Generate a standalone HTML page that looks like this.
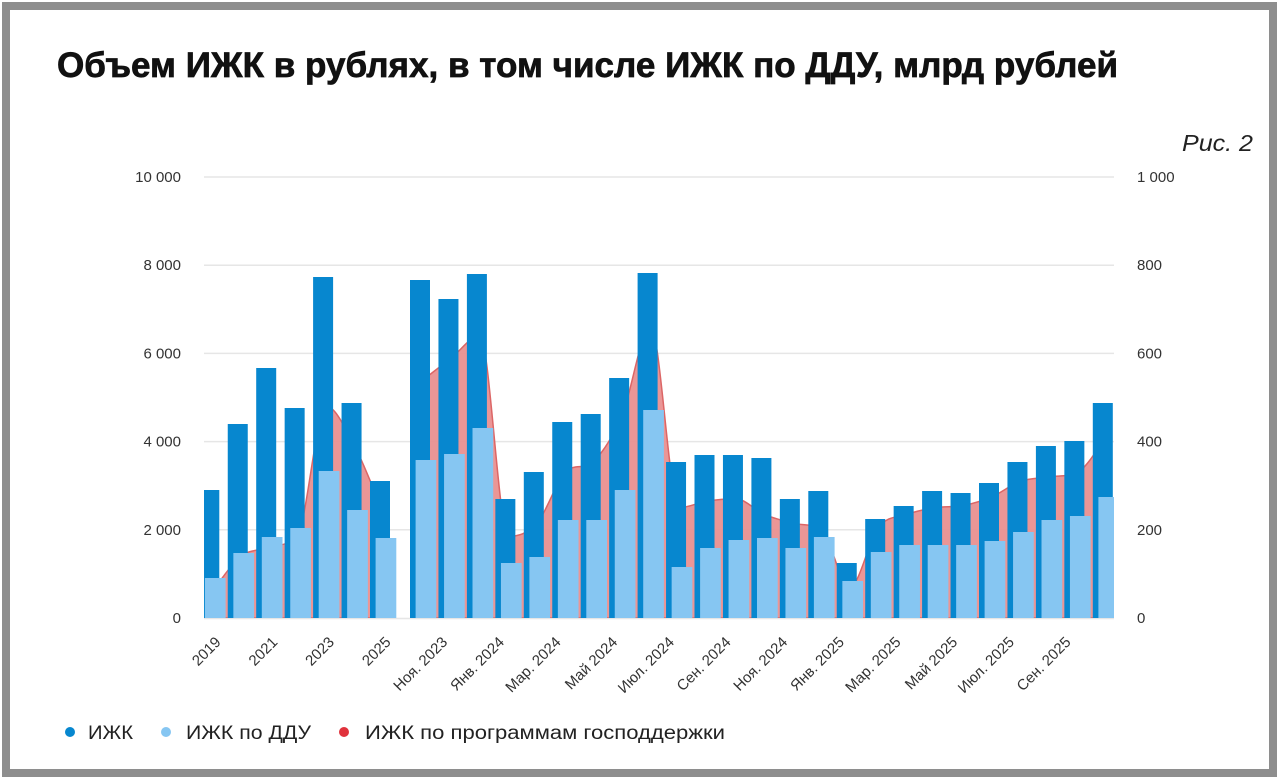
<!DOCTYPE html>
<html><head><meta charset="utf-8"><style>
html,body{margin:0;padding:0;background:#fff;}
svg{display:block;font-family:"Liberation Sans",Arial,sans-serif;}
</style></head><body>
<svg width="1280" height="780" viewBox="0 0 1280 780" xmlns="http://www.w3.org/2000/svg">
<rect x="0" y="0" width="1280" height="780" fill="#fff"/>
<rect x="6" y="6" width="1267" height="767" fill="none" stroke="#8e8e8e" stroke-width="8"/>

<text x="57" y="77" font-size="35" font-weight="bold" fill="#111" stroke="#111" stroke-width="0.7" textLength="1061" lengthAdjust="spacingAndGlyphs">Объем ИЖК в рублях, в том числе ИЖК по ДДУ, млрд рублей</text>
<text x="1182" y="151" font-size="23" font-style="italic" fill="#222" textLength="71" lengthAdjust="spacingAndGlyphs">Рис. 2</text>

<g stroke="#e6e6e6" stroke-width="1.5">
<line x1="204" y1="177" x2="1114" y2="177"/>
<line x1="204" y1="265.2" x2="1114" y2="265.2"/>
<line x1="204" y1="353.4" x2="1114" y2="353.4"/>
<line x1="204" y1="441.6" x2="1114" y2="441.6"/>
<line x1="204" y1="529.8" x2="1114" y2="529.8"/>
<line x1="204" y1="618.5" x2="1114" y2="618.5"/>
</g>

<g font-size="15" fill="#333" text-anchor="end">
<text x="181" y="182">10 000</text>
<text x="181" y="270">8 000</text>
<text x="181" y="358.5">6 000</text>
<text x="181" y="446.5">4 000</text>
<text x="181" y="535">2 000</text>
<text x="181" y="623">0</text>
</g>
<g font-size="15" fill="#333">
<text x="1137" y="182">1 000</text>
<text x="1137" y="270">800</text>
<text x="1137" y="358.5">600</text>
<text x="1137" y="446.5">400</text>
<text x="1137" y="535">200</text>
<text x="1137" y="623">0</text>
</g>

<defs><clipPath id="pc"><rect x="204" y="100" width="910" height="518"/></clipPath></defs>
<g clip-path="url(#pc)">
<g fill="#e99090" fill-opacity="0.95" stroke="#dc6666" stroke-width="1.5">
<path d="M 212.3,618 L 212.3,591.5 C 217.04,585.63 231.27,563.65 240.75,556.3 C 250.23,548.95 259.72,551.08 269.2,547.4 C 278.68,543.72 288.17,547.4 297.65,534.2 C 307.13,521.0 316.62,406.3 326.1,406.3 C 335.58,406.3 345.07,428.35 354.55,446.0 C 364.03,463.65 378.26,501.17 383.0,512.2 L 383,618 Z"/>
<path d="M 423,618 L 423,379.9 C 427.74,376.22 441.97,365.15 451.45,357.8 C 460.93,350.45 470.42,335.8 479.9,335.8 C 489.38,335.8 498.87,536.4 508.35,536.4 C 517.83,536.4 527.32,533.85 536.8,523.2 C 546.28,512.55 555.77,482.8 565.25,472.5 C 574.73,462.2 584.22,470.97 593.7,461.4 C 603.18,451.83 612.67,437.52 622.15,415.1 C 631.63,392.68 641.12,326.9 650.6,326.9 C 660.08,326.9 669.57,507.7 679.05,507.7 C 688.53,507.7 698.02,502.57 707.5,501.1 C 716.98,499.63 726.47,498.9 735.95,498.9 C 745.43,498.9 754.92,510.35 764.4,514.4 C 773.88,518.45 783.37,520.63 792.85,523.2 C 802.33,525.77 811.82,523.2 821.3,529.8 C 830.78,536.4 840.27,587.1 849.75,587.1 C 859.23,587.1 868.72,539.72 878.2,527.6 C 887.68,515.48 897.17,517.72 906.65,514.4 C 916.13,511.08 925.62,509.18 935.1,507.7 C 944.58,506.22 954.07,507.33 963.55,505.5 C 973.03,503.67 982.52,500.73 992.0,496.7 C 1001.48,492.67 1010.97,484.6 1020.45,481.3 C 1029.93,478.0 1039.42,478.37 1048.9,476.9 C 1058.38,475.43 1067.87,476.9 1077.35,472.5 C 1086.83,468.1 1101.06,443.08 1105.8,437.2 L 1105.8,618 Z"/>
</g>

<g fill="#0787cf">
<rect x="199.3" y="490" width="20" height="128"/>
<rect x="227.75" y="424" width="20" height="194"/>
<rect x="256.2" y="368" width="20" height="250"/>
<rect x="284.65" y="408" width="20" height="210"/>
<rect x="313.1" y="277" width="20" height="341"/>
<rect x="341.55" y="403" width="20" height="215"/>
<rect x="370" y="481" width="20" height="137"/>
<rect x="410" y="280" width="20" height="338"/>
<rect x="438.45" y="299" width="20" height="319"/>
<rect x="466.9" y="274" width="20" height="344"/>
<rect x="495.35" y="499" width="20" height="119"/>
<rect x="523.8" y="472" width="20" height="146"/>
<rect x="552.25" y="422" width="20" height="196"/>
<rect x="580.7" y="414" width="20" height="204"/>
<rect x="609.15" y="378" width="20" height="240"/>
<rect x="637.6" y="273" width="20" height="345"/>
<rect x="666.05" y="462" width="20" height="156"/>
<rect x="694.5" y="455" width="20" height="163"/>
<rect x="722.95" y="455" width="20" height="163"/>
<rect x="751.4" y="458" width="20" height="160"/>
<rect x="779.85" y="499" width="20" height="119"/>
<rect x="808.3" y="491" width="20" height="127"/>
<rect x="836.75" y="563" width="20" height="55"/>
<rect x="865.2" y="519" width="20" height="99"/>
<rect x="893.65" y="506" width="20" height="112"/>
<rect x="922.1" y="491" width="20" height="127"/>
<rect x="950.55" y="493" width="20" height="125"/>
<rect x="979" y="483" width="20" height="135"/>
<rect x="1007.45" y="462" width="20" height="156"/>
<rect x="1035.9" y="446" width="20" height="172"/>
<rect x="1064.35" y="441" width="20" height="177"/>
<rect x="1092.8" y="403" width="20" height="215"/>
</g>

<g fill="#86c6f2">
<rect x="204.9" y="578" width="20.7" height="40"/>
<rect x="233.35" y="553" width="20.7" height="65"/>
<rect x="261.8" y="537" width="20.7" height="81"/>
<rect x="290.25" y="528" width="20.7" height="90"/>
<rect x="318.7" y="471" width="20.7" height="147"/>
<rect x="347.15" y="510" width="20.7" height="108"/>
<rect x="375.6" y="538" width="20.7" height="80"/>
<rect x="415.6" y="460" width="20.7" height="158"/>
<rect x="444.05" y="454" width="20.7" height="164"/>
<rect x="472.5" y="428" width="20.7" height="190"/>
<rect x="500.95" y="563" width="20.7" height="55"/>
<rect x="529.4" y="557" width="20.7" height="61"/>
<rect x="557.85" y="520" width="20.7" height="98"/>
<rect x="586.3" y="520" width="20.7" height="98"/>
<rect x="614.75" y="490" width="20.7" height="128"/>
<rect x="643.2" y="410" width="20.7" height="208"/>
<rect x="671.65" y="567" width="20.7" height="51"/>
<rect x="700.1" y="548" width="20.7" height="70"/>
<rect x="728.55" y="540" width="20.7" height="78"/>
<rect x="757" y="538" width="20.7" height="80"/>
<rect x="785.45" y="548" width="20.7" height="70"/>
<rect x="813.9" y="537" width="20.7" height="81"/>
<rect x="842.35" y="581" width="20.7" height="37"/>
<rect x="870.8" y="552" width="20.7" height="66"/>
<rect x="899.25" y="545" width="20.7" height="73"/>
<rect x="927.7" y="545" width="20.7" height="73"/>
<rect x="956.15" y="545" width="20.7" height="73"/>
<rect x="984.6" y="541" width="20.7" height="77"/>
<rect x="1013.05" y="532" width="20.7" height="86"/>
<rect x="1041.5" y="520" width="20.7" height="98"/>
<rect x="1069.95" y="516" width="20.7" height="102"/>
<rect x="1098.4" y="497" width="20.7" height="121"/>
</g>
</g>

<g font-size="15" fill="#333" text-anchor="end">
<text transform="translate(221.7,643) rotate(-45)">2019</text>
<text transform="translate(278.4,643) rotate(-45)">2021</text>
<text transform="translate(335,643) rotate(-45)">2023</text>
<text transform="translate(391.7,643) rotate(-45)">2025</text>
<text transform="translate(448.3,643) rotate(-45)">Ноя. 2023</text>
<text transform="translate(505,643) rotate(-45)">Янв. 2024</text>
<text transform="translate(561.7,643) rotate(-45)">Мар. 2024</text>
<text transform="translate(618.3,643) rotate(-45)">Май 2024</text>
<text transform="translate(675,643) rotate(-45)">Июл. 2024</text>
<text transform="translate(731.6,643) rotate(-45)">Сен. 2024</text>
<text transform="translate(788.3,643) rotate(-45)">Ноя. 2024</text>
<text transform="translate(845,643) rotate(-45)">Янв. 2025</text>
<text transform="translate(901.6,643) rotate(-45)">Мар. 2025</text>
<text transform="translate(958.3,643) rotate(-45)">Май 2025</text>
<text transform="translate(1015,643) rotate(-45)">Июл. 2025</text>
<text transform="translate(1071.6,643) rotate(-45)">Сен. 2025</text>
</g>

<circle cx="70" cy="732" r="5" fill="#0787cf"/>
<circle cx="166" cy="732" r="5" fill="#86c6f2"/>
<circle cx="344" cy="732" r="5" fill="#e0323c"/>
<g font-size="19" fill="#222">
<text x="88" y="739" textLength="45" lengthAdjust="spacingAndGlyphs">ИЖК</text>
<text x="186" y="739" textLength="125" lengthAdjust="spacingAndGlyphs">ИЖК по ДДУ</text>
<text x="365" y="739" textLength="360" lengthAdjust="spacingAndGlyphs">ИЖК по программам господдержки</text>
</g>
</svg>
</body></html>
